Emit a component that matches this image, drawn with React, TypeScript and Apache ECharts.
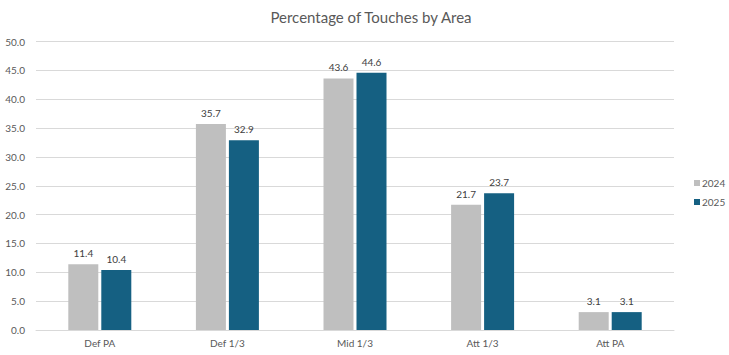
import React, { useEffect, useRef } from "react";
import * as echarts from "echarts";

const categories = ["Def PA", "Def 1/3", "Mid 1/3", "Att 1/3", "Att PA"];
const values2024 = [11.4, 35.7, 43.6, 21.7, 3.1];
const values2025 = [10.4, 32.9, 44.6, 23.7, 3.1];
const yTicks = { min: 0, max: 50, interval: 5 };

export default function App() {
  const ref = useRef<HTMLDivElement>(null);
  useEffect(() => {
    document.body.style.margin = "0";
    const chart = echarts.init(ref.current!, null, { renderer: "svg" });
    const font = "Lato, 'Noto Sans', sans-serif";
    const label = {
      show: true,
      position: "top",
      distance: 6,
      color: "#404040",
      fontSize: 10,
      fontFamily: font,
      formatter: (p: any) => Number(p.value).toFixed(1),
    };
    chart.setOption({
      animation: false,
      backgroundColor: "#ffffff",
      title: {
        text: "Percentage of Touches by Area",
        left: 366,
        textAlign: "center",
        top: 4,
        textStyle: { color: "#595959", fontSize: 15, fontWeight: "normal", fontFamily: font },
      },
      legend: {
        orient: "vertical",
        left: 694,
        top: 178,
        padding: 0,
        itemWidth: 6,
        itemHeight: 6,
        itemGap: 9,
        icon: "rect",
        textStyle: { color: "#595959", fontSize: 10, fontFamily: font, padding: [0, 0, 0, -3] },
        data: ["2024", "2025"],
      },
      grid: { left: 36, right: 55, top: 41.5, bottom: 25, containLabel: false },
      xAxis: {
        type: "category",
        data: categories,
        axisLine: { show: true, lineStyle: { color: "#d9d9d9" } },
        axisTick: { show: false },
        axisLabel: { color: "#595959", fontSize: 10, fontFamily: font, margin: 8 },
      },
      yAxis: {
        type: "value",
        min: yTicks.min,
        max: yTicks.max,
        interval: yTicks.interval,
        axisLine: { show: false },
        axisTick: { show: false },
        splitLine: { lineStyle: { color: "#d9d9d9" } },
        axisLabel: {
          color: "#595959",
          fontSize: 10,
          fontFamily: font,
          margin: 11,
          formatter: (v: number) => v.toFixed(1),
        },
      },
      series: [
        {
          name: "2024",
          type: "bar",
          data: values2024,
          barWidth: 30,
          barGap: "10%",
          itemStyle: { color: "#bfbfbf" },
          label,
        },
        {
          name: "2025",
          type: "bar",
          data: values2025,
          barWidth: 30,
          itemStyle: { color: "#156082" },
          label,
        },
      ],
    });
    return () => chart.dispose();
  }, []);
  return <div ref={ref} style={{ width: 729, height: 355, position: "absolute", left: 0, top: 0 }} />;
}
